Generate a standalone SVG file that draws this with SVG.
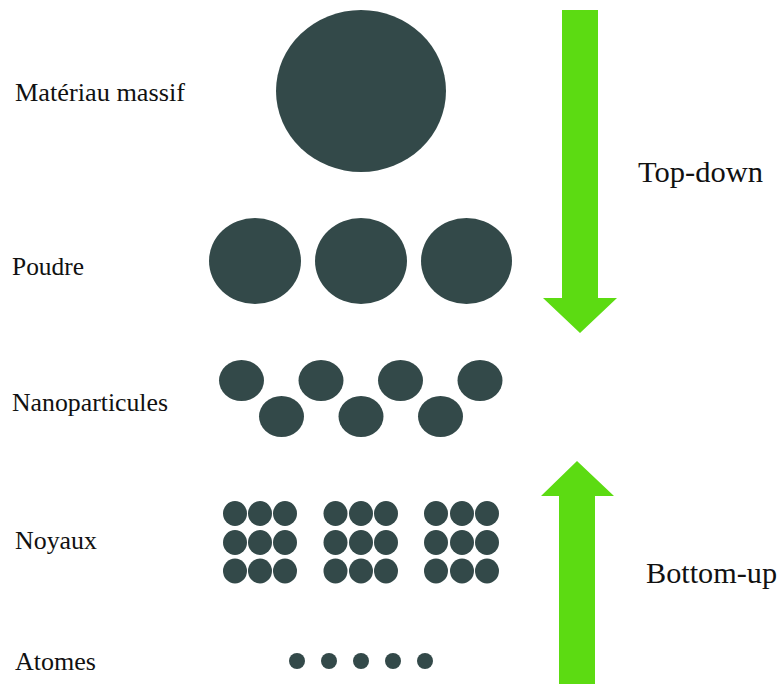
<svg xmlns="http://www.w3.org/2000/svg" width="781" height="684" viewBox="0 0 781 684">
<style>
.p{fill:#334949}
.lbl{font-family:"Liberation Serif","Times New Roman",serif;font-size:25px;fill:#111}
.big{font-family:"Liberation Serif","Times New Roman",serif;font-size:29px;fill:#111}
.arr{fill:#5cdb12}
</style>
<rect width="781" height="684" fill="#fff"/>
<g id="massif">
<text class="lbl" x="15" y="101" textLength="170" lengthAdjust="spacingAndGlyphs">Matériau massif</text>
<ellipse class="p" cx="361" cy="91" rx="85" ry="81"/>
</g>
<g id="poudre">
<text class="lbl" x="12" y="275" textLength="72" lengthAdjust="spacingAndGlyphs">Poudre</text>
<ellipse class="p" cx="255" cy="261" rx="46" ry="43"/>
<ellipse class="p" cx="361" cy="261" rx="46" ry="43"/>
<ellipse class="p" cx="466.5" cy="261" rx="45.5" ry="43"/>
</g>
<g id="nanoparticules">
<text class="lbl" x="12" y="411" textLength="156" lengthAdjust="spacingAndGlyphs">Nanoparticules</text>
<ellipse class="p" cx="241.5" cy="380.5" rx="22.5" ry="20.5"/>
<ellipse class="p" cx="321" cy="380.5" rx="22.5" ry="20.5"/>
<ellipse class="p" cx="400.5" cy="380.5" rx="22.5" ry="20.5"/>
<ellipse class="p" cx="480" cy="380.5" rx="22.5" ry="20.5"/>
<ellipse class="p" cx="281.5" cy="416.5" rx="22.5" ry="20.5"/>
<ellipse class="p" cx="361" cy="416.5" rx="22.5" ry="20.5"/>
<ellipse class="p" cx="440.5" cy="416.5" rx="22.5" ry="20.5"/>
</g>
<g id="noyaux">
<text class="lbl" x="15" y="549" textLength="82" lengthAdjust="spacingAndGlyphs">Noyaux</text>
<g id="noyau1">
<ellipse class="p" cx="235" cy="513.5" rx="12" ry="12.5"/><ellipse class="p" cx="260" cy="513.5" rx="12" ry="12.5"/><ellipse class="p" cx="285" cy="513.5" rx="12" ry="12.5"/>
<ellipse class="p" cx="235" cy="542.5" rx="12" ry="12.5"/><ellipse class="p" cx="260" cy="542.5" rx="12" ry="12.5"/><ellipse class="p" cx="285" cy="542.5" rx="12" ry="12.5"/>
<ellipse class="p" cx="235" cy="571" rx="12" ry="12.5"/><ellipse class="p" cx="260" cy="571" rx="12" ry="12.5"/><ellipse class="p" cx="285" cy="571" rx="12" ry="12.5"/>
</g>
<g id="noyau2">
<ellipse class="p" cx="335.5" cy="513.5" rx="12" ry="12.5"/><ellipse class="p" cx="361" cy="513.5" rx="12" ry="12.5"/><ellipse class="p" cx="386" cy="513.5" rx="12" ry="12.5"/>
<ellipse class="p" cx="335.5" cy="542.5" rx="12" ry="12.5"/><ellipse class="p" cx="361" cy="542.5" rx="12" ry="12.5"/><ellipse class="p" cx="386" cy="542.5" rx="12" ry="12.5"/>
<ellipse class="p" cx="335.5" cy="571" rx="12" ry="12.5"/><ellipse class="p" cx="361" cy="571" rx="12" ry="12.5"/><ellipse class="p" cx="386" cy="571" rx="12" ry="12.5"/>
</g>
<g id="noyau3">
<ellipse class="p" cx="436" cy="513.5" rx="12" ry="12.5"/><ellipse class="p" cx="462" cy="513.5" rx="12" ry="12.5"/><ellipse class="p" cx="487" cy="513.5" rx="12" ry="12.5"/>
<ellipse class="p" cx="436" cy="542.5" rx="12" ry="12.5"/><ellipse class="p" cx="462" cy="542.5" rx="12" ry="12.5"/><ellipse class="p" cx="487" cy="542.5" rx="12" ry="12.5"/>
<ellipse class="p" cx="436" cy="571" rx="12" ry="12.5"/><ellipse class="p" cx="462" cy="571" rx="12" ry="12.5"/><ellipse class="p" cx="487" cy="571" rx="12" ry="12.5"/>
</g>
</g>
<g id="atomes">
<text class="lbl" x="15" y="670" textLength="81" lengthAdjust="spacingAndGlyphs">Atomes</text>
<circle class="p" cx="297" cy="661" r="8"/>
<circle class="p" cx="329" cy="661" r="8"/>
<circle class="p" cx="361" cy="661" r="8"/>
<circle class="p" cx="393" cy="661" r="8"/>
<circle class="p" cx="425" cy="661" r="8"/>
</g>
<g id="connectors">
<g id="top-down">
<polygon class="arr" points="562,10 598,10 598,298 617,298 580,333 543,298 562,298"/>
<text class="big" x="638" y="182" textLength="125" lengthAdjust="spacingAndGlyphs">Top-down</text>
</g>
<g id="bottom-up">
<polygon class="arr" points="577,461 614,496 595,496 595,684 559,684 559,496 541,496"/>
<text class="big" x="646" y="583" textLength="131" lengthAdjust="spacingAndGlyphs">Bottom-up</text>
</g>
</g>
</svg>
